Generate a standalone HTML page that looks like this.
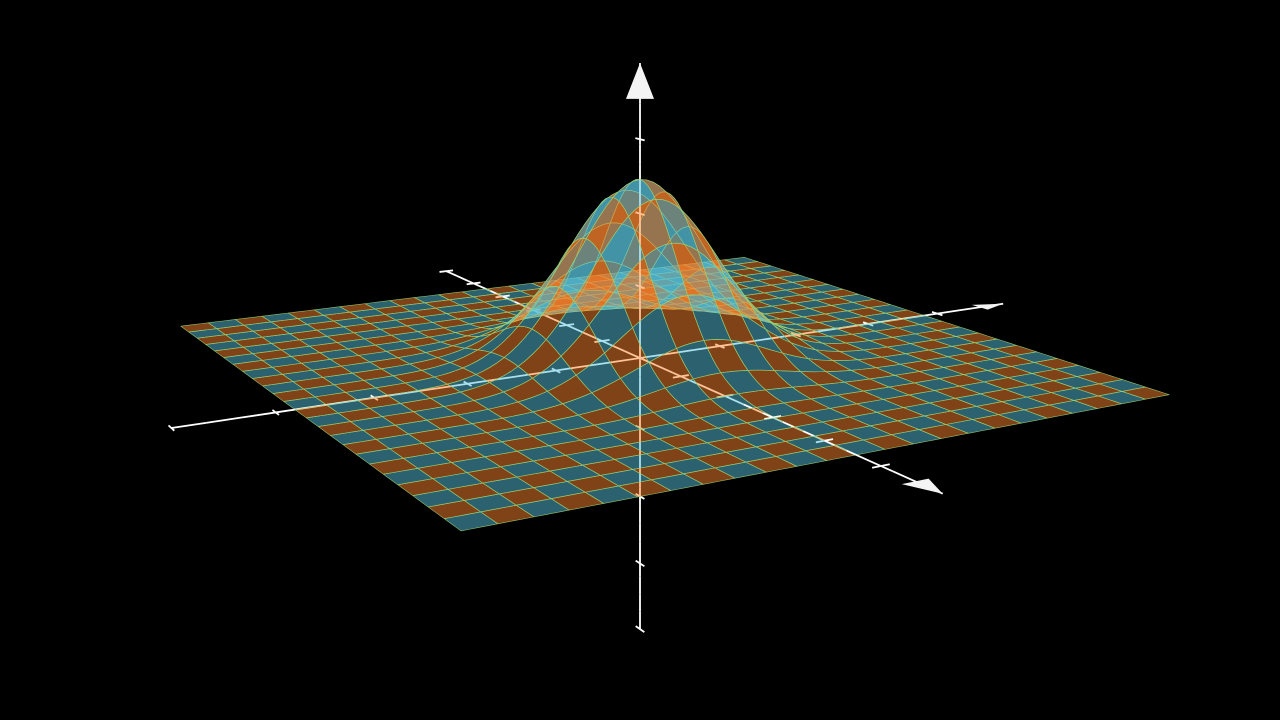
<!DOCTYPE html>
<html><head><meta charset="utf-8"><style>
html,body{margin:0;padding:0;background:#000;}
svg{display:block;}
</style></head><body>
<svg id="chart" width="1280" height="720" viewBox="0 0 1280 720">
<rect width="1280" height="720" fill="#000"/>
<g id="scene"></g>
</svg>
<script>
// data
const uRange = [-2, 2];
const vRange = [-2, 2];
const resolution = [24, 24];
const sigma = [0.4];
const surfaceScale = [2];
const checkerColors = ["#FF862F", "#58C4DD"];
const xTicks = [-6,-5,-4,-3,-2,-1,1,2,3,4,5];
const yTicks = [-5,-4,-3,-2,-1,1,2,3,4];
const zTicks = [-4,-3,-2,-1,1,2,3];

// camera (phi=75deg, theta=-30deg, focal distance 20)
const phi = 75*Math.PI/180, theta = -30*Math.PI/180, focal = 20, ppu = 90, cx = 640, cy = 358;
const camDir = [Math.sin(phi)*Math.cos(theta), Math.sin(phi)*Math.sin(theta), Math.cos(phi)];
const rightV = [-Math.sin(theta), Math.cos(theta), 0];
const upV = [-Math.cos(phi)*Math.cos(theta), -Math.cos(phi)*Math.sin(theta), Math.sin(phi)];
const dot=(a,b)=>a[0]*b[0]+a[1]*b[1]+a[2]*b[2];
function proj(p){const d=dot(p,camDir);const f=focal/(focal-d);return [cx+dot(p,rightV)*ppu*f, cy-dot(p,upV)*ppu*f, d];}
const xUnit=10.5/12, yUnit=10.5/10, zUnit=6.5/8;
function gauss(u,v){return Math.exp(-(u*u+v*v)/(2*sigma[0]*sigma[0]));}
function surf(u,v){const s=surfaceScale[0];return [s*u,s*v,s*gauss(u,v)];}

const items=[];
const [nu,nv]=resolution;
const SUB=4;
for(let i=0;i<nu;i++)for(let j=0;j<nv;j++){
  const u0=uRange[0]+(uRange[1]-uRange[0])*i/nu, u1=uRange[0]+(uRange[1]-uRange[0])*(i+1)/nu;
  const v0=vRange[0]+(vRange[1]-vRange[0])*j/nv, v1=vRange[0]+(vRange[1]-vRange[0])*(j+1)/nv;
  const pts=[];
  for(let k=0;k<SUB;k++)pts.push(surf(u0+(u1-u0)*k/SUB,v0));
  for(let k=0;k<SUB;k++)pts.push(surf(u1,v0+(v1-v0)*k/SUB));
  for(let k=0;k<SUB;k++)pts.push(surf(u1-(u1-u0)*k/SUB,v1));
  for(let k=0;k<SUB;k++)pts.push(surf(u0,v1-(v1-v0)*k/SUB));
  const c=surf((u0+u1)/2,(v0+v1)/2);
  items.push({type:'patch',pts,depth:dot(c,camDir),color:checkerColors[(i+j)%2],i,j});
}
// axes as segments
function addAxis(dir,len,name){
  const n=30;
  for(let k=0;k<n;k++){
    const a=-len+2*len*k/n, b=-len+2*len*(k+1)/n;
    const p=dir.map(d=>d*a), q=dir.map(d=>d*b);
    const m=dir.map(d=>d*(a+b)/2);
    items.push({type:'seg',p,q,depth:dot(m,camDir)+0.02,name});
  }
}
addAxis([1,0,0],5.25,'x-axis');
addAxis([0,1,0],5.25,'y-axis');
addAxis([0,0,1],3.25,'z-axis');
xTicks.forEach(t=>{const x=t*xUnit;items.push({type:'tick',p:[x,-0.1,0],q:[x,0.1,0],depth:dot([x,0,0],camDir)+0.02,name:'x-tick'});});
yTicks.forEach(t=>{const y=t*yUnit;items.push({type:'tick',p:[-0.1,y,0],q:[0.1,y,0],depth:dot([0,y,0],camDir)+0.02,name:'y-tick'});});
zTicks.forEach(t=>{const z=t*zUnit;items.push({type:'tick',p:[-0.1,0,z],q:[0.1,0,z],depth:dot([0,0,z],camDir)+0.02,name:'z-tick'});});
items.sort((a,b)=>a.depth-b.depth);

const g=document.getElementById('scene');
const NS='http://www.w3.org/2000/svg';
for(const it of items){
  if(it.type==='patch'){
    const el=document.createElementNS(NS,'polygon');
    el.setAttribute('points',it.pts.map(p=>{const s=proj(p);return s[0].toFixed(2)+','+s[1].toFixed(2);}).join(' '));
    el.setAttribute('fill',it.color);
    el.setAttribute('fill-opacity','0.5');
    el.setAttribute('stroke','#9BD06F');
    el.setAttribute('stroke-width','0.6');
    el.setAttribute('stroke-opacity','0.9');
    el.setAttribute('stroke-linejoin','round');
    
    
    g.appendChild(el);
  } else {
    const a=proj(it.p), b=proj(it.q);
    const el=document.createElementNS(NS,'line');
    el.setAttribute('x1',a[0]);el.setAttribute('y1',a[1]);el.setAttribute('x2',b[0]);el.setAttribute('y2',b[1]);
    el.setAttribute('stroke','#fff');
    el.setAttribute('stroke-width','1.8');
    
    
    g.appendChild(el);
  }
}
// arrow tips
function tip(dir,len,perp,name){
  const e=proj(dir.map(d=>d*len)), b=dir.map(d=>d*(len-0.38));
  const b1=proj(b.map((v,k)=>v+perp[k]*0.15)), b2=proj(b.map((v,k)=>v-perp[k]*0.15));
  const el=document.createElementNS(NS,'polygon');
  el.setAttribute('points',[e,b1,b2].map(s=>s[0].toFixed(2)+','+s[1].toFixed(2)).join(' '));
  el.setAttribute('fill','#f4f4f4');
  
  
  g.appendChild(el);
}
tip([1,0,0],5.25,[0,1,0],'x-axis-arrow');
tip([0,1,0],5.25,[1,0,0],'y-axis-arrow');
tip([0,0,1],3.25,[0.5,0.866,0],'z-axis-arrow');
</script>
</body></html>
